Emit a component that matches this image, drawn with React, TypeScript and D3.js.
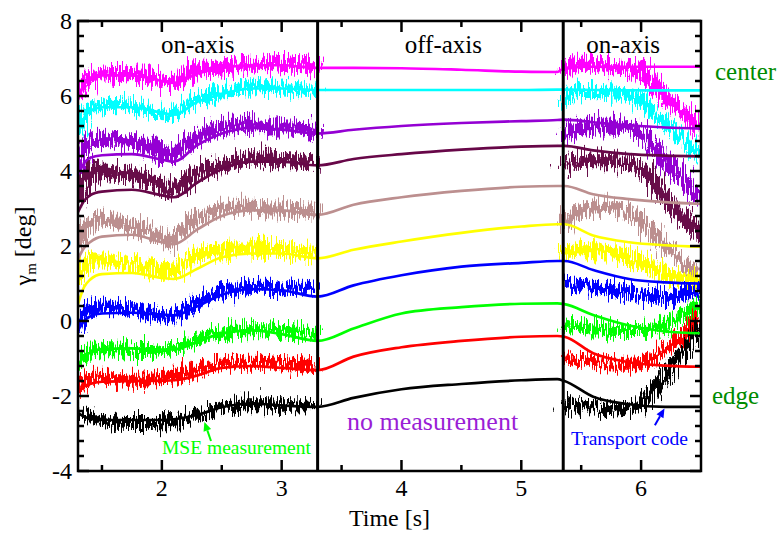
import React, { useEffect } from "react";
import * as d3 from "d3";

// ---------- data ----------
const seriesNames = ["magenta", "cyan", "violet", "maroon", "brown", "yellow", "blue", "green", "red", "black"];
const seriesColors = ["#ff00ff", "#00ffff", "#9400d3", "#670748", "#bc8f8f", "#ffff00", "#0000ff", "#00ff00", "#ff0000", "#000000"];

// measured (MSE) time bases
const tLeft = [1.3, 1.35, 1.4, 1.5, 1.6, 1.7, 1.8, 1.9, 2.0, 2.05, 2.1, 2.2, 2.3, 2.4, 2.5, 2.6, 2.7, 2.8, 2.9, 3.0, 3.1, 3.2, 3.3];
const tRight = [5.36, 5.4, 5.5, 5.6, 5.7, 5.8, 5.9, 6.0, 6.1, 6.2, 6.3, 6.4, 6.5];

const mseLeft = [
  [6.0, 6.4, 6.5, 6.62, 6.6, 6.6, 6.55, 6.5, 6.4, 6.33, 6.35, 6.55, 6.7, 6.72, 6.75, 6.8, 6.85, 6.85, 6.87, 6.85, 6.82, 6.8, 6.75],
  [5.0, 5.5, 5.7, 5.75, 5.78, 5.75, 5.7, 5.65, 5.55, 5.5, 5.52, 5.7, 5.9, 6.0, 6.1, 6.17, 6.22, 6.25, 6.25, 6.22, 6.2, 6.18, 6.15],
  [4.0, 4.6, 4.8, 4.85, 4.82, 4.8, 4.75, 4.65, 4.5, 4.38, 4.45, 4.75, 4.95, 5.05, 5.15, 5.2, 5.25, 5.2, 5.15, 5.15, 5.15, 5.1, 5.05],
  [3.1, 3.8, 3.95, 4.0, 3.95, 3.92, 3.85, 3.75, 3.6, 3.42, 3.5, 3.75, 3.95, 4.05, 4.15, 4.25, 4.32, 4.38, 4.35, 4.3, 4.3, 4.25, 4.2],
  [2.0, 2.5, 2.62, 2.68, 2.65, 2.6, 2.5, 2.4, 2.25, 2.12, 2.2, 2.5, 2.75, 2.9, 3.0, 3.05, 3.05, 3.05, 3.0, 3.0, 2.98, 2.95, 2.95],
  [1.0, 1.5, 1.6, 1.6, 1.58, 1.55, 1.5, 1.4, 1.35, 1.3, 1.35, 1.55, 1.75, 1.85, 1.9, 1.95, 1.95, 1.95, 1.92, 1.9, 1.85, 1.82, 1.8],
  [-0.2, 0.2, 0.35, 0.4, 0.35, 0.32, 0.28, 0.22, 0.15, 0.08, 0.15, 0.3, 0.5, 0.68, 0.78, 0.85, 0.88, 0.9, 0.9, 0.88, 0.85, 0.85, 0.82],
  [-1.2, -0.9, -0.8, -0.75, -0.75, -0.78, -0.8, -0.8, -0.78, -0.75, -0.72, -0.62, -0.5, -0.38, -0.3, -0.25, -0.22, -0.22, -0.22, -0.25, -0.28, -0.3, -0.32],
  [-1.9, -1.6, -1.5, -1.5, -1.55, -1.58, -1.58, -1.55, -1.5, -1.48, -1.45, -1.4, -1.3, -1.2, -1.15, -1.12, -1.1, -1.1, -1.12, -1.15, -1.18, -1.2, -1.22],
  [-2.45, -2.48, -2.5, -2.65, -2.7, -2.72, -2.72, -2.72, -2.7, -2.7, -2.68, -2.6, -2.5, -2.4, -2.3, -2.25, -2.22, -2.22, -2.22, -2.25, -2.27, -2.28, -2.3],
];

const mseRight = [
  [6.6, 6.8, 6.85, 6.85, 6.82, 6.8, 6.75, 6.65, 6.3, 6.0, 5.7, 5.45, 5.1],
  [5.8, 6.05, 6.12, 6.12, 6.1, 6.05, 6.0, 5.88, 5.6, 5.3, 5.0, 4.65, 4.35],
  [4.9, 5.1, 5.15, 5.18, 5.2, 5.2, 5.15, 5.0, 4.65, 4.3, 3.95, 3.6, 3.2],
  [4.0, 4.2, 4.28, 4.3, 4.3, 4.28, 4.22, 4.1, 3.7, 3.3, 2.9, 2.6, 2.3],
  [2.5, 2.8, 2.95, 3.02, 3.05, 3.0, 2.9, 2.7, 2.35, 2.0, 1.7, 1.45, 1.3],
  [1.7, 1.85, 1.9, 1.9, 1.88, 1.8, 1.72, 1.55, 1.4, 1.25, 1.15, 1.1, 1.15],
  [0.95, 1.0, 0.95, 0.9, 0.85, 0.8, 0.75, 0.7, 0.65, 0.62, 0.65, 0.75, 0.9],
  [-0.1, -0.15, -0.18, -0.2, -0.22, -0.24, -0.24, -0.24, -0.2, -0.1, 0.05, 0.25, 0.55],
  [-0.95, -1.0, -1.05, -1.1, -1.15, -1.18, -1.18, -1.15, -1.0, -0.75, -0.5, -0.2, 0.2],
  [-2.15, -2.2, -2.25, -2.3, -2.32, -2.33, -2.3, -2.2, -1.85, -1.45, -1.05, -0.6, -0.05],
];

// transport code time base and values
const tModel = [1.3, 1.35, 1.4, 1.5, 1.75, 2.0, 2.1, 2.3, 2.5, 2.75, 3.0, 3.3, 3.6, 4.0, 4.5, 5.0, 5.3, 5.36, 5.6, 5.9, 6.2, 6.5];
const model = [
  [5.9, 6.3, 6.45, 6.55, 6.55, 6.4, 6.35, 6.6, 6.75, 6.82, 6.82, 6.75, 6.75, 6.74, 6.7, 6.65, 6.64, 6.75, 6.78, 6.78, 6.78, 6.78],
  [5.0, 5.4, 5.6, 5.7, 5.7, 5.55, 5.5, 5.85, 6.05, 6.2, 6.2, 6.16, 6.16, 6.16, 6.16, 6.16, 6.17, 6.17, 6.16, 6.15, 6.15, 6.15],
  [3.9, 4.2, 4.35, 4.42, 4.45, 4.3, 4.25, 4.7, 5.0, 5.15, 5.1, 5.0, 5.1, 5.2, 5.28, 5.33, 5.36, 5.37, 5.3, 5.22, 5.16, 5.13],
  [2.9, 3.2, 3.35, 3.45, 3.5, 3.35, 3.3, 3.7, 4.05, 4.25, 4.25, 4.15, 4.32, 4.45, 4.57, 4.65, 4.67, 4.67, 4.55, 4.45, 4.41, 4.39],
  [1.65, 1.95, 2.1, 2.25, 2.3, 2.1, 2.05, 2.45, 2.8, 2.95, 2.95, 2.83, 3.1, 3.3, 3.47, 3.58, 3.6, 3.6, 3.38, 3.25, 3.17, 3.12],
  [0.45, 0.9, 1.1, 1.25, 1.28, 1.15, 1.12, 1.4, 1.7, 1.8, 1.8, 1.67, 1.9, 2.12, 2.35, 2.52, 2.58, 2.58, 2.28, 2.1, 2.02, 1.98],
  [-0.25, 0.0, 0.12, 0.2, 0.22, 0.17, 0.15, 0.4, 0.7, 0.85, 0.82, 0.65, 0.95, 1.22, 1.45, 1.55, 1.6, 1.6, 1.36, 1.12, 1.03, 1.0],
  [-1.2, -0.95, -0.85, -0.75, -0.73, -0.76, -0.76, -0.55, -0.33, -0.25, -0.35, -0.53, -0.2, 0.2, 0.37, 0.46, 0.47, 0.45, 0.16, -0.12, -0.28, -0.33],
  [-1.92, -1.75, -1.68, -1.62, -1.6, -1.59, -1.58, -1.45, -1.25, -1.2, -1.25, -1.31, -0.95, -0.7, -0.53, -0.42, -0.4, -0.42, -0.86, -1.1, -1.19, -1.22],
  [-2.45, -2.55, -2.6, -2.64, -2.64, -2.64, -2.62, -2.5, -2.3, -2.2, -2.25, -2.29, -2.05, -1.82, -1.68, -1.58, -1.55, -1.6, -2.02, -2.22, -2.29, -2.29],
];

const panelBreaks = [3.3, 5.35];
const panelLabels = ["on-axis", "off-axis", "on-axis"];
const panelLabelT = [2.3, 4.35, 5.85];
const xMajorTicks = [2, 3, 4, 5, 6];
const xTickLabels = ["2", "3", "4", "5", "6"];
const xMinorTicks = [1.5, 2.5, 3.5, 4.5, 5.5];
const yMajorTicks = [-4, -2, 0, 2, 4, 6, 8];
const yTickLabels = ["-4", "-2", "0", "2", "4", "6", "8"];

// ---------- layout / style ----------
const W = 782, H = 534;
const L = 78, R = 701, T = 21, B = 471;
const FONT = "Liberation Serif, Times New Roman, DejaVu Serif, serif";
const bandWidth = [13, 11, 13, 13, 12, 13, 11, 10, 11, 10];

export default function App() {
  useEffect(() => {
    document.body.style.margin = "0";
  }, []);

  const x = d3.scaleLinear().domain([1.3, 6.5]).range([L, R]);
  const y = d3.scaleLinear().domain([-4, 8]).range([B, T]);
  const yMinor = d3.range(-4, 8.001, 0.4).filter((v) => Math.abs(v / 2 - Math.round(v / 2)) > 0.01);

  const lineM = (ts: number[]) =>
    d3.line<number>().x((_, i) => x(ts[i])).y((v) => y(v)).curve(d3.curveMonotoneX);

  const arrow = (t0: number, v0: number, t1: number, v1: number, color: string, key: string) => {
    const x0 = x(t0), y0 = y(v0), x1 = x(t1), y1 = y(v1);
    const ang = Math.atan2(y1 - y0, x1 - x0);
    const len = 9, wid = 4;
    const bx = x1 - len * Math.cos(ang), by = y1 - len * Math.sin(ang);
    const px = -Math.sin(ang) * wid, py = Math.cos(ang) * wid;
    return (
      <g key={key}>
        <line x1={x0} y1={y0} x2={bx} y2={by} stroke={color} strokeWidth={2} />
        <path d={`M${x1},${y1}L${bx + px},${by + py}L${bx - px},${by - py}Z`} fill={color} />
      </g>
    );
  };

  const txt = { fontFamily: FONT };

  return (
    <svg width={W} height={H} style={{ position: "absolute", left: 0, top: 0, background: "#fff", fontFamily: FONT }}>
      <defs>
        <clipPath id="plotClip">
          <rect x={L} y={T} width={R - L} height={B - T} />
        </clipPath>
        <filter id="jit" filterUnits="userSpaceOnUse" x={0} y={0} width={W} height={H}>
          <feTurbulence type="fractalNoise" baseFrequency="0.7 0.04" numOctaves={3} seed={7} result="n" />
          <feDisplacementMap in="SourceGraphic" in2="n" scale={30} xChannelSelector="R" yChannelSelector="G" />
        </filter>
      </defs>
      <rect x={0} y={0} width={W} height={H} fill="#fff" />

      <g clipPath="url(#plotClip)">
        {/* measured (noisy) bands */}
        <g filter="url(#jit)">
          {seriesNames.map((n, i) => (
            <g key={"m" + n}>
              <path d={lineM(tLeft)(mseLeft[i]) || ""} fill="none" stroke={seriesColors[i]} strokeWidth={bandWidth[i]} strokeLinejoin="round" />
              <path d={lineM(tRight)(mseRight[i]) || ""} fill="none" stroke={seriesColors[i]} strokeWidth={bandWidth[i]} strokeLinejoin="round" />
            </g>
          ))}
        </g>
        {/* transport code lines */}
        {seriesNames.map((n, i) => (
          <path key={"t" + n} d={lineM(tModel)(model[i]) || ""} fill="none" stroke={seriesColors[i]} strokeWidth={2.7} />
        ))}
      </g>

      {/* panel dividers */}
      {panelBreaks.map((t) => (
        <line key={"br" + t} x1={x(t)} x2={x(t)} y1={T} y2={B} stroke="#000" strokeWidth={3} />
      ))}

      {/* frame */}
      <rect x={L} y={T} width={R - L} height={B - T} fill="none" stroke="#000" strokeWidth={2.5} />

      {/* ticks */}
      {xMajorTicks.map((t) => (
        <g key={"xM" + t}>
          <line x1={x(t)} x2={x(t)} y1={B} y2={B - 11} stroke="#000" strokeWidth={2.5} />
          <line x1={x(t)} x2={x(t)} y1={T} y2={T + 11} stroke="#000" strokeWidth={2.5} />
        </g>
      ))}
      {xMinorTicks.map((t) => (
        <g key={"xm" + t}>
          <line x1={x(t)} x2={x(t)} y1={B} y2={B - 6} stroke="#000" strokeWidth={2.5} />
          <line x1={x(t)} x2={x(t)} y1={T} y2={T + 6} stroke="#000" strokeWidth={2.5} />
        </g>
      ))}
      {yMajorTicks.map((v) => (
        <g key={"yM" + v}>
          <line x1={L} x2={L + 11} y1={y(v)} y2={y(v)} stroke="#000" strokeWidth={2.5} />
          <line x1={R} x2={R - 11} y1={y(v)} y2={y(v)} stroke="#000" strokeWidth={2.5} />
        </g>
      ))}
      {yMinor.map((v) => (
        <g key={"ym" + v.toFixed(2)}>
          <line x1={L} x2={L + 6} y1={y(v)} y2={y(v)} stroke="#000" strokeWidth={2.5} />
          <line x1={R} x2={R - 6} y1={y(v)} y2={y(v)} stroke="#000" strokeWidth={2.5} />
        </g>
      ))}

      {/* tick labels */}
      {xMajorTicks.map((t, i) => (
        <text key={"xl" + t} x={x(t)} y={B + 25} textAnchor="middle" fontSize={24} style={txt}>
          {xTickLabels[i]}
        </text>
      ))}
      {yMajorTicks.map((v, i) => (
        <text key={"yl" + v} x={L - 6} y={y(v) + 8} textAnchor="end" fontSize={24} style={txt}>
          {yTickLabels[i]}
        </text>
      ))}

      {/* axis titles */}
      <text x={(L + R) / 2} y={526} textAnchor="middle" fontSize={24} style={txt}>Time [s]</text>
      <text transform={`translate(31,${(T + B) / 2}) rotate(-90)`} textAnchor="middle" fontSize={24} style={txt}>
        γ<tspan fontSize={15} dy={5}>m</tspan>
        <tspan dy={-5}> [deg]</tspan>
      </text>

      {/* panel labels */}
      {panelLabels.map((s, i) => (
        <text key={"pl" + i} x={x(panelLabelT[i])} y={53} textAnchor="middle" fontSize={25} style={txt}>
          {s}
        </text>
      ))}

      {/* annotations */}
      <text x={715} y={80} fontSize={25} fill="#008b00" style={txt}>center</text>
      <text x={712} y={404} fontSize={25} fill="#008b00" style={txt}>edge</text>
      <text x={162} y={454} fontSize={19.5} fill="#00ff00" style={txt}>MSE measurement</text>
      <text x={347} y={430} fontSize={26} fill="#9a1ed6" style={txt}>no measurement</text>
      <text x={571} y={445} fontSize={19.5} fill="#0000ff" style={txt}>Transport code</text>
      {arrow(2.41, -3.2, 2.355, -2.69, "#00ff00", "a1")}
      {arrow(6.115, -2.78, 6.195, -2.33, "#0000ff", "a2")}
    </svg>
  );
}
